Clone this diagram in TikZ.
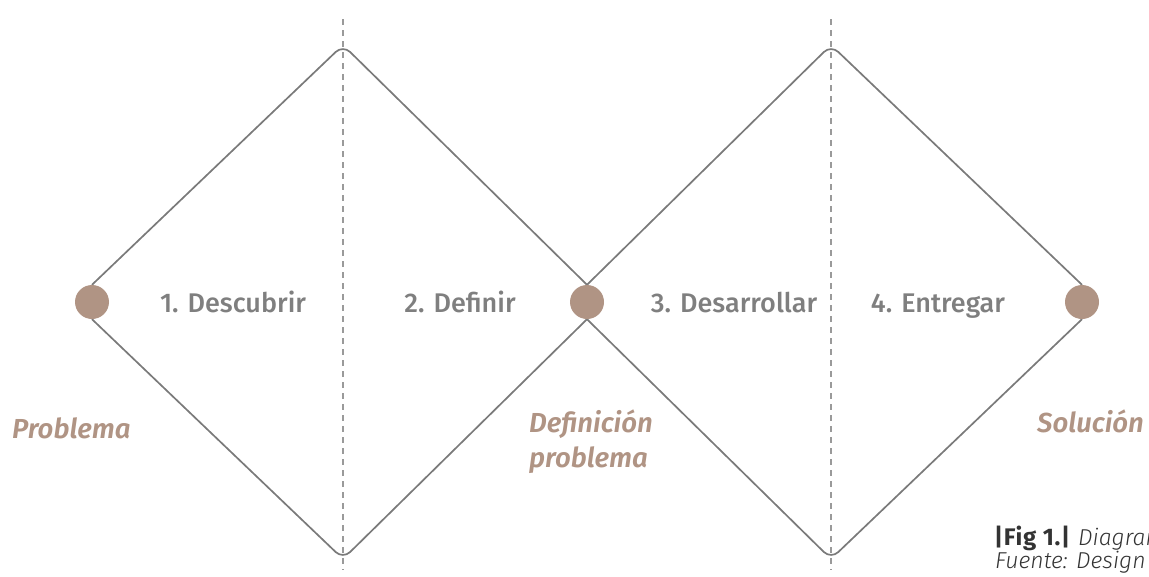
\documentclass[tikz,border=0pt]{standalone}
\usepackage{fontspec}
\setmainfont{Fira Sans}
\newfontfamily\stepfont{Fira Sans Medium}
\newfontfamily\tagfont{Fira Sans SemiBold Italic}
\newfontfamily\capboldfont[LetterSpace=3]{Fira Sans Bold}
\newfontfamily\capitfont{Fira Sans Light Italic}
\usetikzlibrary{backgrounds}
\definecolor{edgegray}{HTML}{7A7A7A}
\definecolor{guidegray}{HTML}{9A9A9A}
\definecolor{steptext}{HTML}{7F7F7F}
\definecolor{tan}{HTML}{B09484}
\definecolor{captext}{HTML}{333333}
\tikzset{
  edge/.style={draw=edgegray, line width=1.7pt, rounded corners=10pt},
  guide/.style={draw=guidegray, line width=1.3pt, dash pattern=on 6pt off 5pt},
  dot/.style={circle, fill=tan, minimum size=34pt, inner sep=0pt},
  steplabel/.style={anchor=base, inner sep=0pt, text=steptext, font=\stepfont\fontsize{27}{30}\selectfont},
  taglabel/.style={anchor=base west, inner sep=0pt, align=left, text=tan, font=\tagfont\fontsize{27.5}{35}\selectfont},
  caplabel/.style={anchor=base west, inner sep=0pt, text=captext, font=\fontsize{23}{26}\selectfont}
}
\begin{document}
\begin{tikzpicture}[x=1pt,y=-1pt]
\useasboundingbox (0,0) rectangle (1149,576);
\clip (0,0) rectangle (1149,576);
% dots
\node[dot] (d1) at (92,302) {};
\node[dot] (d2) at (587,302) {};
\node[dot] (d3) at (1082,302) {};
% vertices
\coordinate (t1) at (343,45);
\coordinate (b1) at (343,559);
\coordinate (t2) at (831,45);
\coordinate (b2) at (831,559);
\coordinate (g1a) at (343,19);
\coordinate (g1b) at (343,570);
\coordinate (g2a) at (831,19);
\coordinate (g2b) at (831,570);
\begin{pgfonlayer}{background}
\draw[guide] (g1a) -- (g1b);
\draw[guide] (g2a) -- (g2b);
\draw[edge] (d1.north) -- (t1) -- (d2.north);
\draw[edge] (d1.south) -- (b1) -- (d2.south);
\draw[edge] (d2.north) -- (t2) -- (d3.north);
\draw[edge] (d2.south) -- (b2) -- (d3.south);
\end{pgfonlayer}
% step labels
\node[steplabel] (s1) at (233,312) {1. Descubrir};
\node[steplabel] (s2) at (460,312) {2. Definir};
\node[steplabel] (s3) at (734,312) {3. Desarrollar};
\node[steplabel] (s4) at (938,312) {4. Entregar};
% italic labels
\node[taglabel] (p1) at (12,438) {Problema};
\node[taglabel] (p2) at (529,467) {Definición\\problema};
\node[taglabel] (p3) at (1037,432) {Solución};
% caption
\node[caplabel] (c1) at (994,545) {{\capboldfont\fontsize{24}{26}\selectfont |Fig 1.|}\hspace{8pt}{\capitfont Diagrama}};
\node[caplabel] (c2) at (995,568) {\capitfont Fuente: Design};
\end{tikzpicture}
\end{document}
